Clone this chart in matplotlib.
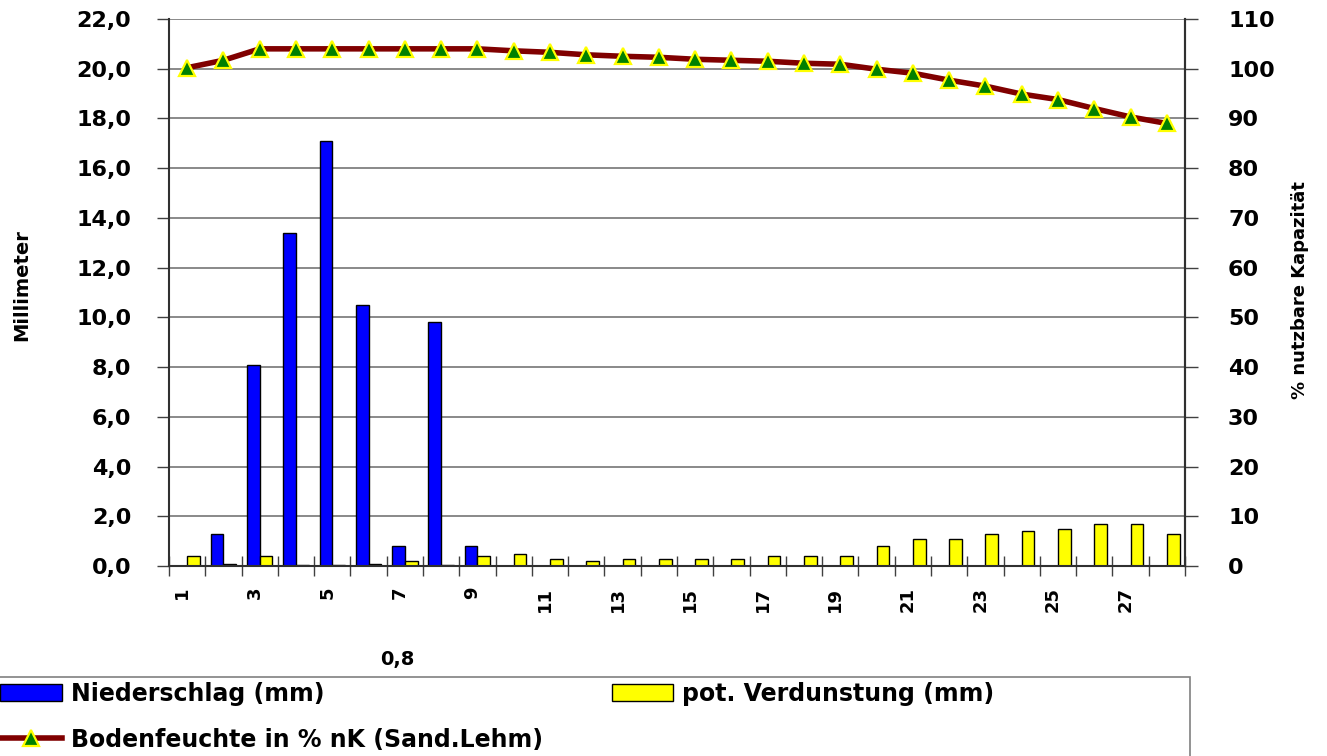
import matplotlib
matplotlib.use("Agg")
import matplotlib.pyplot as plt
import numpy as np
from matplotlib.patches import Rectangle
from matplotlib.ticker import FuncFormatter, FixedLocator
from matplotlib.transforms import ScaledTranslation

# --- data ---
days = list(range(1, 29))
niederschlag = [0.0, 1.3, 8.1, 13.4, 17.1, 10.5, 0.8, 9.8, 0.8, 0.0,
                0.0, 0.0, 0.0, 0.0, 0.0, 0.0, 0.0, 0.0, 0.0, 0.0,
                0.0, 0.0, 0.0, 0.0, 0.0, 0.0, 0.0, 0.0]
verdunstung = [0.4, 0.1, 0.4, 0.05, 0.05, 0.1, 0.2, 0.05, 0.4, 0.5,
               0.3, 0.2, 0.3, 0.3, 0.3, 0.3, 0.4, 0.4, 0.4, 0.8,
               1.1, 1.1, 1.3, 1.4, 1.5, 1.7, 1.7, 1.3]
bodenfeuchte = [100.2, 101.7, 104.0, 104.0, 104.0, 104.0, 104.0, 104.0, 104.0, 103.6,
                103.3, 102.8, 102.5, 102.3, 101.9, 101.7, 101.5, 101.1, 100.9, 99.9,
                99.1, 97.7, 96.5, 94.9, 93.8, 92.0, 90.3, 89.0]
tick_days = [1, 3, 5, 7, 9, 11, 13, 15, 17, 19, 21, 23, 25, 27]

LBL_N = "Niederschlag (mm)"
LBL_V = "pot. Verdunstung (mm)"
LBL_B = "Bodenfeuchte in % nK (Sand.Lehm)"

plt.rcParams["font.family"] = ["DejaVu Sans"]
plt.rcParams["font.weight"] = "bold"

W, H = 1327, 756
fig = plt.figure(figsize=(W / 100, H / 100), dpi=100)
ax = fig.add_axes([169 / W, 1 - 566 / H, (1185 - 169) / W, (566 - 19) / H])

x = np.array(days)
bw = 0.35
b1 = ax.bar(x - bw / 2, niederschlag, width=bw, color="#0000FF",
            edgecolor="black", linewidth=1.0, label=LBL_N, zorder=2)
b2 = ax.bar(x + bw / 2, verdunstung, width=bw, color="#FFFF00",
            edgecolor="black", linewidth=1.0, label=LBL_V, zorder=2)

ax.set_xlim(0.5, 28.5)
ax.set_ylim(0, 22)
ax.set_yticks(np.arange(0, 22.1, 2))
ax.yaxis.set_major_formatter(FuncFormatter(lambda v, _: f"{v:.1f}".replace(".", ",")))
ax.yaxis.grid(True, color="#808080", lw=1.3)
ax.set_axisbelow(True)

ax.xaxis.set_major_locator(FixedLocator(tick_days))
ax.set_xticklabels([str(d) for d in tick_days], rotation=90, fontsize=13, fontweight="bold")
ax.xaxis.set_minor_locator(FixedLocator(np.arange(0.5, 28.6, 1)))
ax.tick_params(axis="x", which="major", length=0, pad=15)
ax.tick_params(axis="x", which="minor", length=14, direction="inout", width=1, color="#404040")
ax.tick_params(axis="y", length=9, width=1, color="#404040", labelsize=16, pad=18)
# labels sit a little left of the category centre in the source
shift = ScaledTranslation(-5 / 100, 0, fig.dpi_scale_trans)
for lab in ax.get_xticklabels():
    lab.set_transform(lab.get_transform() + shift)

ax.spines["top"].set_visible(False)
for s in ["left", "right", "bottom"]:
    ax.spines[s].set_color("#303030")
    ax.spines[s].set_linewidth(1.5)

ax2 = ax.twinx()
ax2.set_ylim(0, 110)
ax2.set_yticks(np.arange(0, 111, 10))
ax2.tick_params(axis="y", length=9, width=1, color="#404040", labelsize=16, pad=22)
for s in ["top", "left", "bottom"]:
    ax2.spines[s].set_visible(False)
ax2.spines["right"].set_color("#303030")
ax2.spines["right"].set_linewidth(1.5)
l1, = ax2.plot(x, bodenfeuchte, color="#800000", lw=4, marker="^", markersize=12,
               markerfacecolor="#008000", markeredgecolor="#FFFF00", markeredgewidth=1.6,
               label=LBL_B, zorder=3)

fig.text(22 / W, 1 - 285 / H, "Millimeter", rotation=90, ha="center", va="center",
         fontsize=14, fontweight="bold")
fig.text(1300 / W, 1 - 290 / H, "% nutzbare Kapazität", rotation=90, ha="center",
         va="center", fontsize=13, fontweight="bold")
fig.text(397 / W, 1 - 660 / H, "0,8", ha="center", va="center", fontsize=14,
         fontweight="bold")

# legend frame drawn separately, running off the left and bottom edge like the source
fig.patches.append(Rectangle((-0.01, -0.01), 1190 / W + 0.01, 1 - 677 / H + 0.01,
                             transform=fig.transFigure, fill=False,
                             edgecolor="#808080", lw=1.2))
fig.legend([b1, l1, b2], [LBL_N, LBL_B, LBL_V], loc="upper left",
           bbox_to_anchor=(-0.014, 1 - 663 / H), ncol=2, frameon=False,
           fontsize=17, handlelength=2.6, handletextpad=0.4, borderpad=0.3,
           labelspacing=0.92, columnspacing=2.9, numpoints=1)

fig.savefig("out.png", dpi=100)
